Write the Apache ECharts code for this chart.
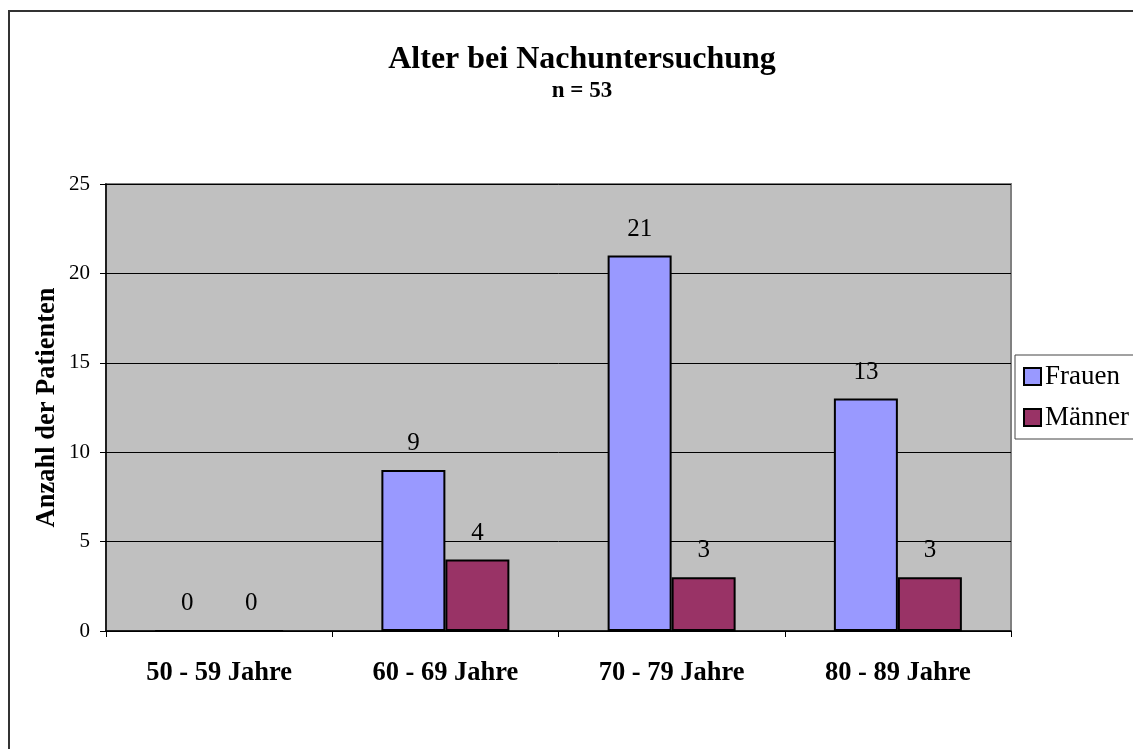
<!DOCTYPE html>
<html>
<head>
<meta charset="utf-8">
<script src="https://cdn.jsdelivr.net/npm/echarts@6/dist/echarts.min.js"></script>
<style>
  html, body { margin: 0; padding: 0; background: #fff; }
  #main { width: 1133px; height: 749px; }
</style>
</head>
<body>
<div id="main"></div>
<script>
// Werte aus der Vorlage
const categories = ['50 - 59 Jahre', '60 - 69 Jahre', '70 - 79 Jahre', '80 - 89 Jahre']
const frauen = [0, 9, 21, 13]
const maenner = [0, 4, 3, 3]
const seriesNames = ['Frauen', 'Männer']

const font = 'Liberation Serif, Times New Roman, serif'
let chart = echarts.init(document.getElementById('main'))

let labelStyle = {
  show: true,
  position: 'top',
  distance: 14,
  color: '#000',
  fontFamily: font,
  fontSize: 25
}

chart.setOption({
  backgroundColor: '#fff',
  animation: false,
  title: {
    text: 'Alter bei Nachuntersuchung',
    subtext: 'n = 53',
    left: 577,
    top: 39,
    textAlign: 'center',
    itemGap: 4,
    textStyle: { fontFamily: font, fontSize: 32, fontWeight: 'bold', color: '#000' },
    subtextStyle: { fontFamily: font, fontSize: 23, fontWeight: 'bold', color: '#000' }
  },
  graphic: [{
    type: 'rect',
    shape: { x: 9, y: 11, width: 1300, height: 900 },
    style: { fill: 'none', stroke: '#333', lineWidth: 2 },
    z: 100
  }],
  legend: {
    orient: 'vertical',
    left: 1015,
    top: 355,
    padding: [8, 30, 8, 8],
    itemGap: 14,
    itemWidth: 17,
    itemHeight: 17,
    backgroundColor: '#fff',
    borderColor: '#444',
    borderWidth: 1,
    icon: 'rect',
    textStyle: { fontFamily: font, fontSize: 27, lineHeight: 26, color: '#000', padding: [0, 0, 0, -1] },
    data: seriesNames
  },
  grid: {
    show: true,
    left: 106,
    top: 184,
    width: 905,
    height: 447,
    backgroundColor: '#C0C0C0',
    borderColor: '#808080',
    borderWidth: 2
  },
  xAxis: {
    type: 'category',
    data: categories,
    axisLine: { lineStyle: { color: '#000', width: 1.5 } },
    axisTick: { show: true, length: 6, lineStyle: { color: '#000' } },
    axisLabel: { margin: 29, color: '#000', fontFamily: font, fontSize: 26.5, fontWeight: 'bold' }
  },
  yAxis: {
    type: 'value',
    min: 0,
    max: 25,
    interval: 5,
    name: 'Anzahl der Patienten',
    nameLocation: 'middle',
    nameGap: 45,
    nameMoveOverlap: false,
    nameTextStyle: { fontFamily: font, fontSize: 26.5, fontWeight: 'bold', color: '#000' },
    axisLine: { show: true, lineStyle: { color: '#000', width: 1.5 } },
    axisTick: { show: true, length: 6, lineStyle: { color: '#000' } },
    axisLabel: { margin: 16, color: '#000', fontFamily: font, fontSize: 21 },
    splitLine: { show: true, lineStyle: { color: '#000', width: 1 } }
  },
  series: [
    {
      name: 'Frauen',
      type: 'bar',
      data: frauen,
      barWidth: 64,
      barGap: '0%',
      itemStyle: { color: '#9999FF', borderColor: '#000', borderWidth: 2 },
      label: labelStyle
    },
    {
      name: 'Männer',
      type: 'bar',
      data: maenner,
      barWidth: 64,
      barGap: '0%',
      itemStyle: { color: '#993366', borderColor: '#000', borderWidth: 2 },
      label: labelStyle
    }
  ]
})
</script>
</body>
</html>
